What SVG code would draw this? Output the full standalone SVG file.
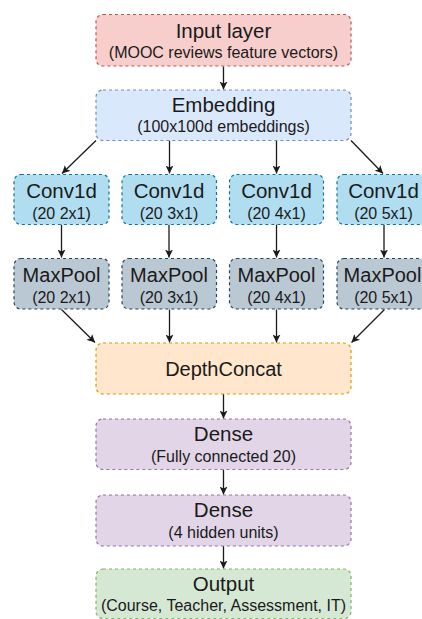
<svg xmlns="http://www.w3.org/2000/svg" width="422" height="619" viewBox="0 0 422 619">
  <defs>
    <style>
      .box { stroke-width: 1.2; stroke-dasharray: 3 3; }
      .red { fill: #f8cecc; stroke: #b85450; }
      .blue { fill: #dae8fc; stroke: #6c8ebf; }
      .conv { fill: #b1ddf0; stroke: #10739e; }
      .pool { fill: #bac8d3; stroke: #23445d; }
      .orange { fill: #ffe6cc; stroke: #d79b00; }
      .purple { fill: #e1d5e7; stroke: #9673a6; }
      .green { fill: #d5e8d4; stroke: #82b366; }
      .t { font-family: "Liberation Sans", Arial, sans-serif; font-size: 20.5px; fill: #1a1a1a; text-anchor: middle; }
      .p { font-size: 20px; }
      .s { font-family: "Liberation Sans", Arial, sans-serif; font-size: 16px; fill: #1a1a1a; text-anchor: middle; }
      .edge { stroke: #1a1a1a; stroke-width: 1.3; fill: none; marker-end: url(#arr); }
    </style>
    <marker id="arr" markerWidth="8" markerHeight="8" viewBox="0 0 10 10" refX="10" refY="5" orient="auto" markerUnits="userSpaceOnUse">
      <path d="M0,0 L10,5 L0,10 L2.5,5 Z" fill="#1a1a1a"/>
    </marker>
  </defs>

  <g id="connectors">
    <line class="edge" x1="223.5" y1="66.5" x2="223.5" y2="89.5"/>
    <line class="edge" x1="96" y1="140.5" x2="62" y2="173.5"/>
    <line class="edge" x1="169.5" y1="140.5" x2="169.5" y2="173.5"/>
    <line class="edge" x1="276.5" y1="140.5" x2="276.5" y2="173.5"/>
    <line class="edge" x1="351" y1="140.5" x2="383" y2="173.5"/>
    <line class="edge" x1="61.5" y1="224.5" x2="61.5" y2="257.5"/>
    <line class="edge" x1="169" y1="224.5" x2="169" y2="257.5"/>
    <line class="edge" x1="276.5" y1="224.5" x2="276.5" y2="257.5"/>
    <line class="edge" x1="384" y1="224.5" x2="384" y2="257.5"/>
    <line class="edge" x1="61.5" y1="309.5" x2="95" y2="342.5"/>
    <line class="edge" x1="169.5" y1="309.5" x2="169.5" y2="342.5"/>
    <line class="edge" x1="276.5" y1="309.5" x2="276.5" y2="342.5"/>
    <line class="edge" x1="384.5" y1="309.5" x2="351.5" y2="342.5"/>
    <line class="edge" x1="223.5" y1="394" x2="223.5" y2="418.5"/>
    <line class="edge" x1="223.5" y1="469.5" x2="223.5" y2="494.5"/>
    <line class="edge" x1="223.5" y1="546" x2="223.5" y2="568.5"/>
  </g>

  <g id="input">
    <rect class="box red" x="96" y="14.5" width="255" height="51.5" rx="7"/>
    <text class="t" x="223.5" y="37.5">Input layer</text>
    <text class="s" x="223.5" y="57.5">(MOOC reviews feature vectors)</text>
  </g>

  <g id="embedding">
    <rect class="box blue" x="96" y="90" width="255" height="50.5" rx="7"/>
    <text class="t" x="223.5" y="112">Embedding</text>
    <text class="s" x="223.5" y="132">(100x100d embeddings)</text>
  </g>

  <g id="conv1">
    <rect class="box conv" x="14" y="174.5" width="95" height="50" rx="7"/>
    <text class="t" x="61.5" y="198">Conv1d</text>
    <text class="s" x="61.5" y="218.5">(20 2x1)</text>
  </g>
  <g id="conv2">
    <rect class="box conv" x="122" y="174.5" width="94.5" height="50" rx="7"/>
    <text class="t" x="169" y="198">Conv1d</text>
    <text class="s" x="169" y="218.5">(20 3x1)</text>
  </g>
  <g id="conv3">
    <rect class="box conv" x="229.5" y="174.5" width="94" height="50" rx="7"/>
    <text class="t" x="276.5" y="198">Conv1d</text>
    <text class="s" x="276.5" y="218.5">(20 4x1)</text>
  </g>
  <g id="conv4">
    <rect class="box conv" x="337" y="174.5" width="95" height="50" rx="7"/>
    <text class="t" x="383.5" y="198">Conv1d</text>
    <text class="s" x="383.5" y="218.5">(20 5x1)</text>
  </g>

  <g id="pool1">
    <rect class="box pool" x="14" y="258.5" width="95" height="50.5" rx="7"/>
    <text class="t p" x="61.5" y="282">MaxPool</text>
    <text class="s" x="61.5" y="302.5">(20 2x1)</text>
  </g>
  <g id="pool2">
    <rect class="box pool" x="122" y="258.5" width="94.5" height="50.5" rx="7"/>
    <text class="t p" x="169" y="282">MaxPool</text>
    <text class="s" x="169" y="302.5">(20 3x1)</text>
  </g>
  <g id="pool3">
    <rect class="box pool" x="229.5" y="258.5" width="94" height="50.5" rx="7"/>
    <text class="t p" x="276.5" y="282">MaxPool</text>
    <text class="s" x="276.5" y="302.5">(20 4x1)</text>
  </g>
  <g id="pool4">
    <rect class="box pool" x="337" y="258.5" width="95" height="50.5" rx="7"/>
    <text class="t p" x="382.5" y="282">MaxPool</text>
    <text class="s" x="383.5" y="302.5">(20 5x1)</text>
  </g>

  <g id="depthconcat">
    <rect class="box orange" x="96" y="343" width="255" height="51" rx="7"/>
    <text class="t" x="223.5" y="375.5" style="font-size:20px">DepthConcat</text>
  </g>

  <g id="dense1">
    <rect class="box purple" x="96" y="419" width="255" height="50.5" rx="7"/>
    <text class="t" x="223.5" y="441">Dense</text>
    <text class="s" x="223.5" y="461.5">(Fully connected 20)</text>
  </g>

  <g id="dense2">
    <rect class="box purple" x="96" y="495" width="255" height="51" rx="7"/>
    <text class="t" x="223.5" y="517">Dense</text>
    <text class="s" x="223.5" y="537.5">(4 hidden units)</text>
  </g>

  <g id="output">
    <rect class="box green" x="96" y="569" width="255" height="49.5" rx="7"/>
    <text class="t" x="223.5" y="591">Output</text>
    <text class="s" x="223.5" y="611">(Course, Teacher, Assessment, IT)</text>
  </g>
</svg>
